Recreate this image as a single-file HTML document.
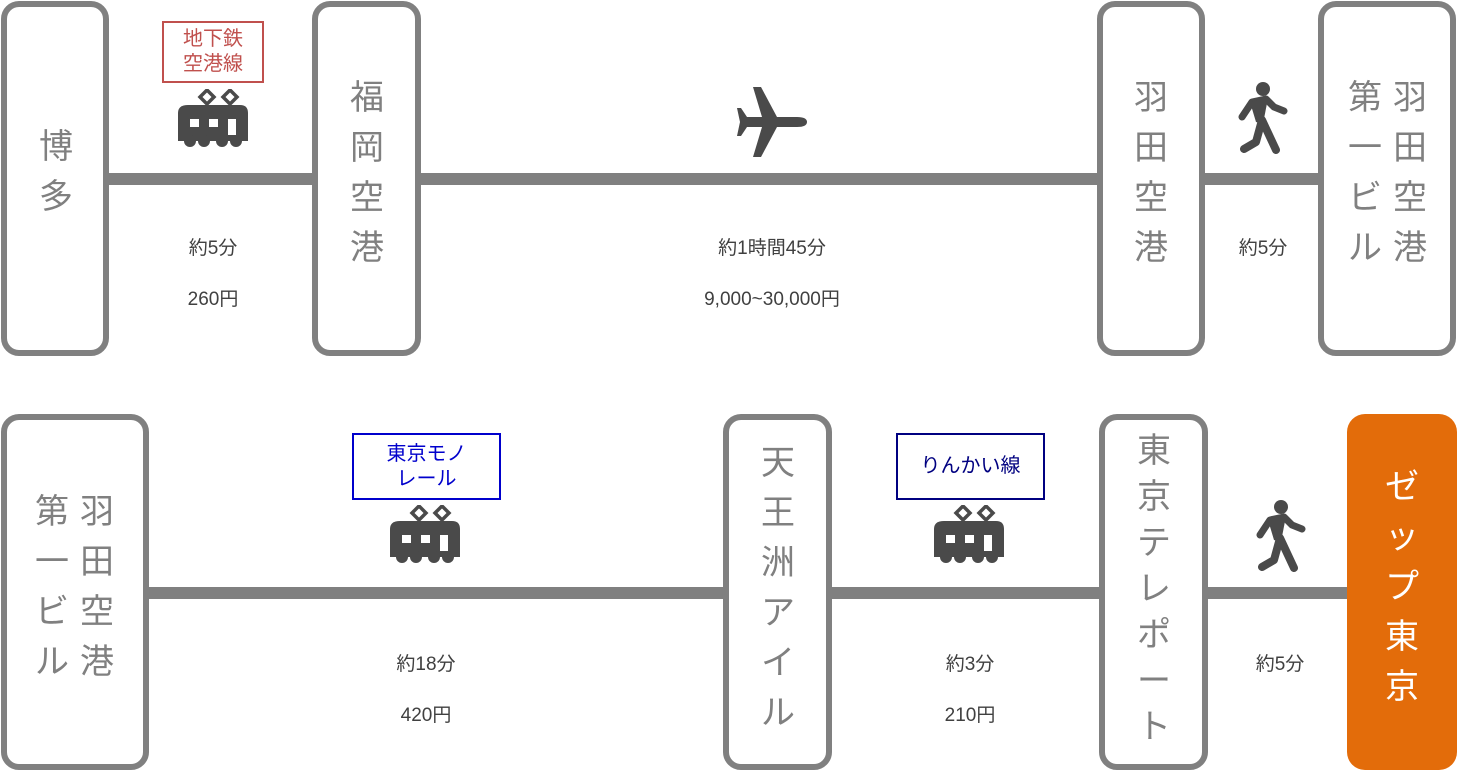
<!DOCTYPE html>
<html><head><meta charset="utf-8"><style>
body{margin:0;width:1457px;height:773px;background:#fff;position:relative;overflow:hidden;font-family:"Liberation Sans","Noto Sans CJK JP",sans-serif}
.b{position:absolute;box-sizing:border-box;border:6px solid #808080;border-radius:18px;background:#fff}
.l{position:absolute;background:#808080}
.col{position:absolute;width:44px;margin-left:-22px;text-align:center;font-size:34px;line-height:50px;color:#808080}
.t{position:absolute;width:200px;margin-left:-100px;text-align:center;font-size:19px;color:#404040}
.tag{position:absolute;box-sizing:border-box;text-align:center;font-size:20px;line-height:25px;background:#fff;display:flex;align-items:center;justify-content:center}
svg{position:absolute}
</style></head><body>
<svg width="0" height="0"><defs>
<g id="train"><path d="M22 8 L29 1 L36 8 L29 15Z M45 8 L52 1 L59 8 L52 15Z" fill="none" stroke="#4a4a4a" stroke-width="3.5"/>
<path d="M10 16 H62 Q70 16 70 24 V52 H0 V24 Q0 16 10 16Z" fill="#4a4a4a"/>
<circle cx="12" cy="52" r="6" fill="#4a4a4a"/><circle cx="26" cy="52" r="6" fill="#4a4a4a"/><circle cx="44" cy="52" r="6" fill="#4a4a4a"/><circle cx="58" cy="52" r="6" fill="#4a4a4a"/>
<rect x="12" y="30" width="9" height="8" fill="#fff"/><rect x="31" y="30" width="9" height="8" fill="#fff"/><rect x="50" y="30" width="8" height="16" fill="#fff"/></g>
<g id="walk"><circle cx="27" cy="7" r="7" fill="#4a4a4a"/>
<path d="M6 35 L16 20 L30 17 L38 25 L48 29" fill="none" stroke="#4a4a4a" stroke-width="7" stroke-linecap="round" stroke-linejoin="round"/>
<path d="M14 20 L32 16 L27 42 L20 40 Z" fill="#4a4a4a"/>
<path d="M26 38 L20 60 L8 67 M26 38 L40 68" fill="none" stroke="#4a4a4a" stroke-width="8" stroke-linecap="round" stroke-linejoin="round"/></g>
</defs></svg>

<div class="l" style="left:105px;top:173px;width:1220px;height:12px"></div>
<div class="l" style="left:145px;top:587px;width:1210px;height:12px"></div>

<div class="b" style="left:1px;top:1px;width:108px;height:355px"></div>
<div class="col" style="left:56px;top:122px">博<br>多</div>
<div class="b" style="left:312px;top:1px;width:109px;height:355px"></div>
<div class="col" style="left:367px;top:73px">福<br>岡<br>空<br>港</div>
<div class="b" style="left:1097px;top:1px;width:108px;height:355px"></div>
<div class="col" style="left:1151px;top:73px">羽<br>田<br>空<br>港</div>
<div class="b" style="left:1318px;top:1px;width:138px;height:355px"></div>
<div class="col" style="left:1410px;top:73px">羽<br>田<br>空<br>港</div>
<div class="col" style="left:1365px;top:73px">第<br>一<br>ビ<br>ル</div>

<div class="tag" style="left:162px;top:21px;width:102px;height:62px;border:2px solid #c0504d;color:#c0504d">地下鉄<br>空港線</div>
<svg style="left:178px;top:89px" width="72" height="60"><use href="#train"/></svg>
<div class="t" style="left:213px;top:233px">約5分</div>
<div class="t" style="left:213px;top:284px">260円</div>
<svg style="left:737px;top:86px" width="72" height="72" viewBox="0 0 72 72"><path d="M70 36 Q70 31 60 31 L40 31 L24 1 L16 1 L25 31 L10 31 L4 22 L0 22 L3 36 L0 50 L4 50 L10 41 L25 41 L16 71 L24 71 L40 41 L60 41 Q70 41 70 36Z" fill="#4a4a4a"/></svg>
<div class="t" style="left:772px;top:233px">約1時間45分</div>
<div class="t" style="left:772px;top:284px">9,000~30,000円</div>
<svg style="left:1236px;top:82px" width="56" height="74"><use href="#walk"/></svg>
<div class="t" style="left:1263px;top:233px">約5分</div>

<div class="b" style="left:1px;top:414px;width:148px;height:356px"></div>
<div class="col" style="left:97px;top:487px">羽<br>田<br>空<br>港</div>
<div class="col" style="left:52px;top:487px">第<br>一<br>ビ<br>ル</div>
<div class="b" style="left:723px;top:414px;width:109px;height:356px"></div>
<div class="col" style="left:778px;top:438px">天<br>王<br>洲<br>ア<br>イ<br>ル</div>
<div class="b" style="left:1099px;top:414px;width:109px;height:356px"></div>
<div class="col" style="left:1154px;top:428px;line-height:46px">東<br>京<br>テ<br>レ<br>ポ<br>ー<br>ト</div>
<div style="position:absolute;left:1347px;top:414px;width:110px;height:356px;background:#e36c0a;border-radius:18px"></div>
<div class="col" style="left:1402px;top:462px;color:#fff">ゼ<br>ッ<br>プ<br>東<br>京</div>

<div class="tag" style="left:352px;top:433px;width:149px;height:67px;border:2px solid #0000cc;color:#0000cc">東京モノ<br>レール</div>
<svg style="left:390px;top:505px" width="72" height="60"><use href="#train"/></svg>
<div class="t" style="left:426px;top:649px">約18分</div>
<div class="t" style="left:426px;top:700px">420円</div>
<div class="tag" style="left:896px;top:433px;width:149px;height:67px;border:2px solid #000080;color:#000080">りんかい線</div>
<svg style="left:934px;top:505px" width="72" height="60"><use href="#train"/></svg>
<div class="t" style="left:970px;top:649px">約3分</div>
<div class="t" style="left:970px;top:700px">210円</div>
<svg style="left:1254px;top:500px" width="56" height="74"><use href="#walk"/></svg>
<div class="t" style="left:1280px;top:649px">約5分</div>
</body></html>
